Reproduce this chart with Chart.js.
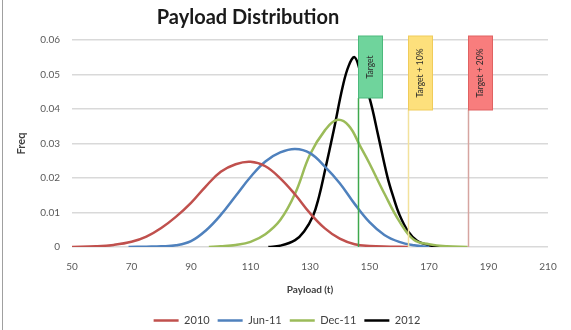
<!DOCTYPE html>
<html>
<head>
<meta charset="utf-8">
<script src="https://cdn.jsdelivr.net/npm/chart.js@4.4.1/dist/chart.umd.min.js"></script>
<style>
  html, body { margin: 0; padding: 0; background: #fff; }
  #wrap { position: relative; width: 571px; height: 330px; }
  #wrap::before { content: ''; position: absolute; left: 2px; top: 0; bottom: 0; width: 1px; background: #a0a0a0; }
  canvas { display: block; }
</style>
</head>
<body>
<div id="wrap"><canvas id="chart" width="571" height="330"></canvas></div>
<script>
  // values
  const seriesNames = ['2010', 'Jun-11', 'Dec-11', '2012'];

  const x2010 = [50, 58, 64, 70, 75, 80, 85, 90, 95, 100, 105, 110, 115, 120, 125, 130, 135, 140, 145, 150, 157, 163];
  const y2010 = [0, 0.0002, 0.0006, 0.0015, 0.003, 0.0055, 0.0088, 0.0128, 0.0176, 0.0218, 0.0240, 0.0247, 0.0234, 0.0199, 0.0152, 0.0098, 0.0054, 0.0024, 0.0008, 0.0003, 0.0001, 0];

  const xJun11 = [69, 75, 80, 85, 90, 95, 100, 105, 110, 115, 120, 125, 130, 135, 140, 145, 150, 155, 160, 165, 170];
  const yJun11 = [0, 0.0001, 0.0002, 0.0005, 0.0017, 0.0048, 0.0093, 0.0148, 0.0203, 0.0248, 0.0274, 0.0284, 0.0272, 0.0233, 0.0185, 0.0125, 0.0072, 0.0035, 0.0015, 0.0005, 0];

  const xDec11 = [96, 100, 105, 110, 115, 120, 125, 130, 135, 139, 143, 147, 150, 155, 160, 165, 170, 176, 183];
  const yDec11 = [0, 0.0002, 0.0006, 0.0015, 0.0037, 0.0078, 0.0155, 0.0268, 0.0338, 0.0368, 0.0352, 0.0290, 0.0242, 0.0155, 0.0075, 0.0020, 0.0008, 0.0002, 0];

  const x2012 = [116, 120, 125, 128, 131, 133, 135, 138, 141, 143, 145, 147, 150, 153, 156, 158, 160, 163, 166, 170, 175];
  const y2012 = [0, 0.0004, 0.002, 0.0045, 0.009, 0.0145, 0.022, 0.0339, 0.0465, 0.0525, 0.055, 0.0505, 0.0432, 0.032, 0.0204, 0.0145, 0.0095, 0.0045, 0.0018, 0.0005, 0];

  const markerX = [146, 163, 183];
  const markerLabels = ['Target', 'Target + 10%', 'Target + 20%'];

  const SERIES_COLORS = ['#c0504d', '#4f81bd', '#9bbb59', '#000000'];
  const MARKER_STYLE = [
    { fill: '#6fd49c', border: '#4cb97c', line: '#3ea84c', height: 62 },
    { fill: '#fde07c', border: '#f0cc5a', line: '#f3e29c', height: 74 },
    { fill: '#f87d7d', border: '#e06262', line: '#d6a4a0', height: 74 }
  ];

  function toPoints(xs, ys) {
    return xs.map(function (x, i) { return { x: x, y: ys[i] }; });
  }

  const seriesPoints = [
    toPoints(x2010, y2010),
    toPoints(xJun11, yJun11),
    toPoints(xDec11, yDec11),
    toPoints(x2012, y2012)
  ];

  const titlePlugin = {
    id: 'sheetTitle',
    afterDraw: function (chart) {
      const ctx = chart.ctx;
      ctx.save();
      ctx.fillStyle = '#1a1a1a';
      ctx.font = 'bold 20px Lato';
      ctx.textAlign = 'center';
      ctx.textBaseline = 'middle';
      ctx.fillText('Payload Distribution', 248, 18);
      ctx.restore();
    }
  };

  // legend in the original sits a little right of the canvas centre
  const legendShift = {
    id: 'legendShift',
    afterLayout: function (chart) {
      if (!chart.legend) return;
      chart.legend.left += 13;
      chart.legend.right += 13;
    }
  };

  const markerPlugin = {
    id: 'targetMarkers',
    afterDatasetsDraw: function (chart) {
      const ctx = chart.ctx;
      const xs = chart.scales.x;
      const ys = chart.scales.y;
      const top = ys.getPixelForValue(0.06) - 4;
      const base = ys.getPixelForValue(0);
      markerX.forEach(function (value, i) {
        const st = MARKER_STYLE[i];
        const px = Math.round(xs.getPixelForValue(value)) + 0.5;
        ctx.save();
        ctx.strokeStyle = st.line;
        ctx.lineWidth = 1.5;
        ctx.beginPath();
        ctx.moveTo(px, top + st.height);
        ctx.lineTo(px, base);
        ctx.stroke();

        ctx.fillStyle = st.fill;
        ctx.strokeStyle = st.border;
        ctx.lineWidth = 1;
        ctx.fillRect(px, top, 24, st.height);
        ctx.strokeRect(px, top, 24, st.height);

        ctx.translate(px + 12, top + st.height / 2);
        ctx.rotate(-Math.PI / 2);
        ctx.fillStyle = '#2b2b2b';
        ctx.font = '8.5px Lato';
        ctx.textAlign = 'center';
        ctx.textBaseline = 'middle';
        ctx.fillText(markerLabels[i], 0, 0);
        ctx.restore();
      });
    }
  };

  const ctx = document.getElementById('chart').getContext('2d');
  new Chart(ctx, {
    type: 'scatter',
    data: {
      datasets: seriesNames.map(function (name, i) {
        return {
          label: name,
          data: seriesPoints[i],
          showLine: true,
          borderColor: SERIES_COLORS[i],
          backgroundColor: SERIES_COLORS[i],
          borderWidth: 2.5,
          pointRadius: 0,
          tension: 0.4
        };
      })
    },
    options: {
      responsive: false,
      animation: false,
      layout: { padding: { top: 40, right: 23, left: 0, bottom: -6 } },
      scales: {
        x: {
          type: 'linear',
          min: 50,
          max: 210,
          afterFit: function (scale) { scale.height = 60; },
          grid: { display: false, drawTicks: false },
          border: { display: false },
          ticks: { stepSize: 20, padding: 14, color: '#595959', font: { family: 'Lato', size: 10 } },
          title: { display: true, text: 'Payload (t)', color: '#404040', padding: { top: 0, bottom: 11 }, font: { family: 'Lato', size: 10, weight: 'bold' } }
        },
        y: {
          min: 0,
          max: 0.06,
          afterFit: function (scale) { scale.width = 72; },
          grid: { color: '#d9d9d9', lineWidth: 1.5, drawTicks: false },
          border: { display: false },
          ticks: {
            stepSize: 0.01,
            padding: 12,
            color: '#595959',
            font: { family: 'Lato', size: 10 },
            callback: function (v) { return v === 0 ? '0' : v.toFixed(2); }
          },
          title: { display: true, text: 'Freq', color: '#404040', padding: { top: 15, bottom: 0 }, font: { family: 'Lato', size: 11, weight: 'bold' } }
        }
      },
      plugins: {
        legend: {
          position: 'bottom',
          labels: {
            usePointStyle: true,
            pointStyle: 'line',
            pointStyleWidth: 25,
            padding: 8,
            color: '#404040',
            font: { family: 'Lato', size: 11 }
          }
        },
        tooltip: { enabled: false }
      }
    },
    plugins: [titlePlugin, legendShift, markerPlugin]
  });
</script>
</body>
</html>
